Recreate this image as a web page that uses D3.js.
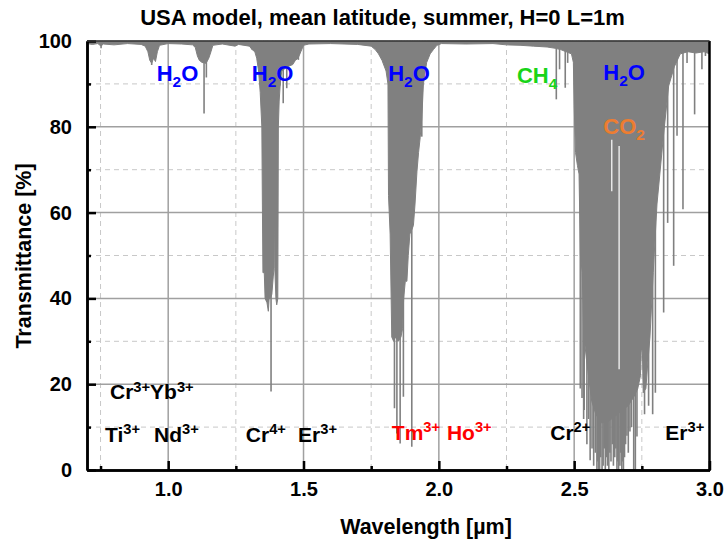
<!DOCTYPE html>
<html><head><meta charset="utf-8">
<script src="https://cdn.jsdelivr.net/npm/d3@7"></script>
<style>
body{margin:0;background:#fff}
text{font-family:"Liberation Sans",Arial,sans-serif;font-weight:bold}
</style>
</head><body>
<svg id="chart" width="726" height="544"></svg>
<script>
// ---------- data ----------
const titleText = "USA model, mean latitude, summer, H=0 L=1m";
const xLabel = "Wavelength [\u00b5m]";
const yLabel = "Transmittance [%]";
const xTicks = [1.0, 1.5, 2.0, 2.5, 3.0];
const xMinorTicks = [0.75, 1.25, 1.75, 2.25, 2.75];
const yTicks = [0, 20, 40, 60, 80, 100];
const yMinorTicks = [10, 30, 50, 70, 90];

// broad absorption envelope (wavelength µm, transmittance %)
const bandWl = [0.700,0.720,0.740,0.752,0.760,0.800,0.850,0.900,0.915,0.925,0.932,0.939,0.946,0.953,0.960,0.968,
 1.000,1.050,1.090,1.100,1.108,1.115,1.125,1.140,1.150,1.158,1.165,1.200,1.247,1.260,1.300,1.310,1.320,1.327,1.334,
 1.340,1.346,1.348,1.350,1.355,1.358,1.365,1.370,1.373,1.3738,1.3746,1.378,1.383,1.388,1.391,1.3925,1.394,1.398,
 1.401,1.405,1.407,1.410,1.415,1.420,1.430,1.440,1.460,1.470,1.480,1.490,1.500,1.520,1.600,1.700,1.750,1.765,1.777,
 1.790,1.805,1.812,1.814,1.820,1.826,1.833,1.840,1.850,1.860,1.866,1.870,1.876,1.882,1.887,1.893,1.900,1.906,1.912,
 1.919,1.925,1.931,1.937,1.943,1.955,1.968,1.980,1.993,2.010,2.100,2.200,2.250,2.300,2.350,2.400,2.430,2.450,2.470,
 2.490,2.497,2.500,2.505,2.512,2.518,2.523,2.530,2.535,2.545,2.555,2.565,2.580,2.600,2.620,2.640,2.660,2.680,2.700,
 2.720,2.735,2.745,2.748,2.752,2.755,2.765,2.772,2.780,2.792,2.806,2.830,2.849,2.870,2.892,2.920,2.950,2.980,3.000];
const bandT = [99.4,99.2,99.4,98.8,99.3,99.1,99.4,99.2,98.8,97.5,95.5,94.8,96,95.2,97.5,99,
 99.4,99.3,99.1,98.5,96.5,95.5,95,94.8,96,97.5,99,99.3,98.8,99.2,98.8,98,97.5,96,93,
 88,80,62,46,46,40,39,37,40,64,40,40,41,45,47,62,47,40,
 38.5,40,80,86,91,93,93.5,94,94.5,95.5,96,97.5,99,99.3,99.4,99.2,98.8,98,97,
 95.5,93,90,64,55,31,30,31,30,31,33,40,44,44,50,55,56,57,62,
 69.5,74,77.5,82,90,95,97,98,99,99.4,99.3,99.4,99.1,99,98.8,98.6,98.3,98,97.5,
 97,95,85,74,71,69,50,46,32,26,21,16,13,11,11,12,13,14,15,
 17,19,22,28,28,18,19,25,31,46,62,78,89.5,94,97,97.5,97.2,97.5,97];

// narrow absorption lines (wavelength µm, minimum transmittance %)
const lineWl = [0.752,0.939,1.1325,1.141,1.309,1.380,1.413,1.425,1.438,1.481,
 1.836,1.845,1.857,1.869,1.900,1.937,1.962,
 2.434,2.446,2.467,2.476,2.5226,2.529,2.535,2.537,2.547,2.553,2.559,2.566,2.572,2.578,
 2.584,2.587,2.590,2.594,2.598,2.603,2.607,2.611,2.615,2.619,2.623,2.628,2.632,2.636,2.641,2.645,2.650,2.654,
 2.658,2.661,2.664,2.669,2.672,2.676,2.679,2.682,2.686,2.690,2.695,2.700,2.706,2.712,2.720,2.726,2.732,
 2.760,2.775,2.790,2.800,2.8306,2.8454,2.8676,2.880,2.902,2.917,2.945,2.972,2.985];
const lineT = [98.3,94.4,83.1,91.5,98,18.3,89.6,85.5,89,95.6,
 14.4,8.5,6.2,17.1,5.4,77.7,97.8,
 86.4,93.4,89.1,94.9,19,16.8,11.9,14,6,11.9,2.3,5,1,4,
 0,2,0,0,3,0,1,5,0,3,1,0,4,2,6,1,3,5,
 0,2,0,1,4,0,2,0,3,6,8,4,9,10,0,0,7.8,
 13,15,13,18,36.7,57.6,47.6,77.9,60.8,94.9,82.9,93.4,96.5];

// transparent windows inside the CO2 band (wavelength, upper T, lower T)
const gapWl = [2.639, 2.666];
const gapTop = [77, 75.5];
const gapBottom = [65, 23.5];

// annotations: text (with _{} sub / ^{} sup), anchor wavelength, anchor T, colour
const annText = ["H_{2}O","H_{2}O","H_{2}O","CH_{4}","H_{2}O","CO_{2}",
 "Cr^{3+}Yb^{3+}","Ti^{3+}","Nd^{3+}","Cr^{4+}","Er^{3+}","Tm^{3+}","Ho^{3+}","Cr^{2+}","Er^{3+}"];
const annWl = [0.9575,1.309,1.8128,2.2886,2.6076,2.6076,0.785,0.7665,0.9477,1.2867,1.480,1.8264,2.0298,2.4116,2.8367];
const annT  = [90.6,90.6,90.6,90.2,90.9,78.3,16.5,6.6,6.6,6.6,6.6,7.0,7.0,7.0,7.0];
const annColor = ["#0000ff","#0000ff","#0000ff","#19d419","#0000ff","#ed7d31",
 "#000","#000","#000","#000","#000","#ff0000","#ff0000","#000","#000"];

// ---------- chart ----------
const svg = d3.select("#chart");
const M = {l:87, r:709.5, t:41, b:470};
const x = d3.scaleLinear().domain([0.7, 3.0]).range([M.l, M.r]);
const y = d3.scaleLinear().domain([0, 100]).range([M.b, M.t]);

// grid
const grid = svg.append("g");
grid.selectAll(".gxm").data(xMinorTicks).join("line")
  .attr("x1", d=>x(d)).attr("x2", d=>x(d)).attr("y1", M.t).attr("y2", M.b)
  .attr("stroke", "#c8c8c8").attr("stroke-width", 1).attr("stroke-dasharray", "5,4");
grid.selectAll(".gym").data(yMinorTicks).join("line")
  .attr("y1", d=>y(d)).attr("y2", d=>y(d)).attr("x1", M.l).attr("x2", M.r)
  .attr("stroke", "#c8c8c8").attr("stroke-width", 1).attr("stroke-dasharray", "5,4");
grid.selectAll(".gx").data(xTicks.filter(d=>d<3)).join("line")
  .attr("x1", d=>x(d)).attr("x2", d=>x(d)).attr("y1", M.t).attr("y2", M.b)
  .attr("stroke", "#a0a0a0").attr("stroke-width", 1.5);
grid.selectAll(".gy").data(yTicks.filter(d=>d>0&&d<100)).join("line")
  .attr("y1", d=>y(d)).attr("y2", d=>y(d)).attr("x1", M.l).attr("x2", M.r)
  .attr("stroke", "#a0a0a0").attr("stroke-width", 1.5);

// spectrum
const band = bandWl.map((w,i)=>({w, t:bandT[i]}));
const area = d3.area().x(d=>x(d.w)).y0(y(100)).y1(d=>y(d.t));
svg.append("path").datum(band).attr("d", area)
  .attr("fill", "#808080").attr("stroke", "#808080").attr("stroke-width", 1);
const lines = lineWl.map((w,i)=>({w, t:lineT[i]}));
svg.append("g").selectAll("line").data(lines).join("line")
  .attr("x1", d=>x(d.w)).attr("x2", d=>x(d.w)).attr("y1", y(100)).attr("y2", d=>y(d.t))
  .attr("stroke", "#808080").attr("stroke-width", 1.6);
const gaps = gapWl.map((w,i)=>({w, a:gapTop[i], b:gapBottom[i]}));
svg.append("g").selectAll("line").data(gaps).join("line")
  .attr("x1", d=>x(d.w)).attr("x2", d=>x(d.w)).attr("y1", d=>y(d.a)).attr("y2", d=>y(d.b))
  .attr("stroke", "#fff").attr("stroke-width", 1.2);

// axes (inward ticks)
const fmt = d3.format(".1f");
const xAxis = svg.append("g").attr("transform", `translate(0,${M.b})`)
  .call(d3.axisBottom(x).tickValues(xTicks).tickFormat(fmt).tickSize(-9).tickSizeOuter(0).tickPadding(12));
const xMinorAxis = svg.append("g").attr("transform", `translate(0,${M.b})`)
  .call(d3.axisBottom(x).tickValues(xMinorTicks).tickFormat("").tickSize(-4).tickSizeOuter(0));
const yAxis = svg.append("g").attr("transform", `translate(${M.l},0)`)
  .call(d3.axisLeft(y).tickValues(yTicks).tickSize(-9).tickSizeOuter(0).tickPadding(15));
const yMinorAxis = svg.append("g").attr("transform", `translate(${M.l},0)`)
  .call(d3.axisLeft(y).tickValues(yMinorTicks).tickFormat("").tickSize(-4).tickSizeOuter(0));
[xAxis, xMinorAxis, yAxis, yMinorAxis].forEach(a=>{
  a.selectAll("path.domain").attr("stroke", "#000").attr("stroke-width", 2.5);
  a.selectAll(".tick line").attr("stroke", "#000").attr("stroke-width", 2.5);
  a.selectAll("text").attr("fill", "#000").style("font-size", "20px")
    .style("font-family", '"Liberation Sans",Arial,sans-serif').style("font-weight", "bold");
});
// right and top frame
svg.append("line").attr("x1", M.r).attr("x2", M.r).attr("y1", M.t).attr("y2", M.b+1)
  .attr("stroke", "#000").attr("stroke-width", 2.5);
svg.append("line").attr("x1", M.l).attr("x2", M.r).attr("y1", M.t).attr("y2", M.t)
  .attr("stroke", "#333").attr("stroke-width", 1.5);

// titles
svg.append("text").attr("x", 382.5).attr("y", 25).attr("text-anchor", "middle")
  .style("font-size", "22px").text(titleText);
svg.append("text").attr("x", 426).attr("y", 534).attr("text-anchor", "middle")
  .style("font-size", "21.5px").text(xLabel);
svg.append("text").attr("transform", "translate(31,256) rotate(-90)").attr("text-anchor", "middle")
  .style("font-size", "21.5px").text(yLabel);

// annotations
function rich(g, px, py, str, size, color) {
  const t = g.append("text").attr("x", px).attr("y", py).attr("fill", color).style("font-size", size + "px");
  const parts = str.match(/_\{[^}]*\}|\^\{[^}]*\}|[^_^]+/g);
  let shift = 0;
  parts.forEach(p => {
    let kind = null, txt = p;
    if (p[0] === "_") { kind = "sub"; txt = p.slice(2, -1); }
    else if (p[0] === "^") { kind = "sup"; txt = p.slice(2, -1); }
    const target = kind === "sub" ? size * 0.27 : kind === "sup" ? -size * 0.36 : 0;
    const ts = t.append("tspan").attr("dy", target - shift).text(txt);
    if (kind) ts.style("font-size", (size * 0.7) + "px");
    shift = target;
  });
}
const annG = svg.append("g");
annText.forEach((s, i) => {
  const isMol = i < 6;
  rich(annG, x(annWl[i]), y(annT[i]), s, isMol ? 22 : 21, annColor[i]);
});
</script>
</body></html>
